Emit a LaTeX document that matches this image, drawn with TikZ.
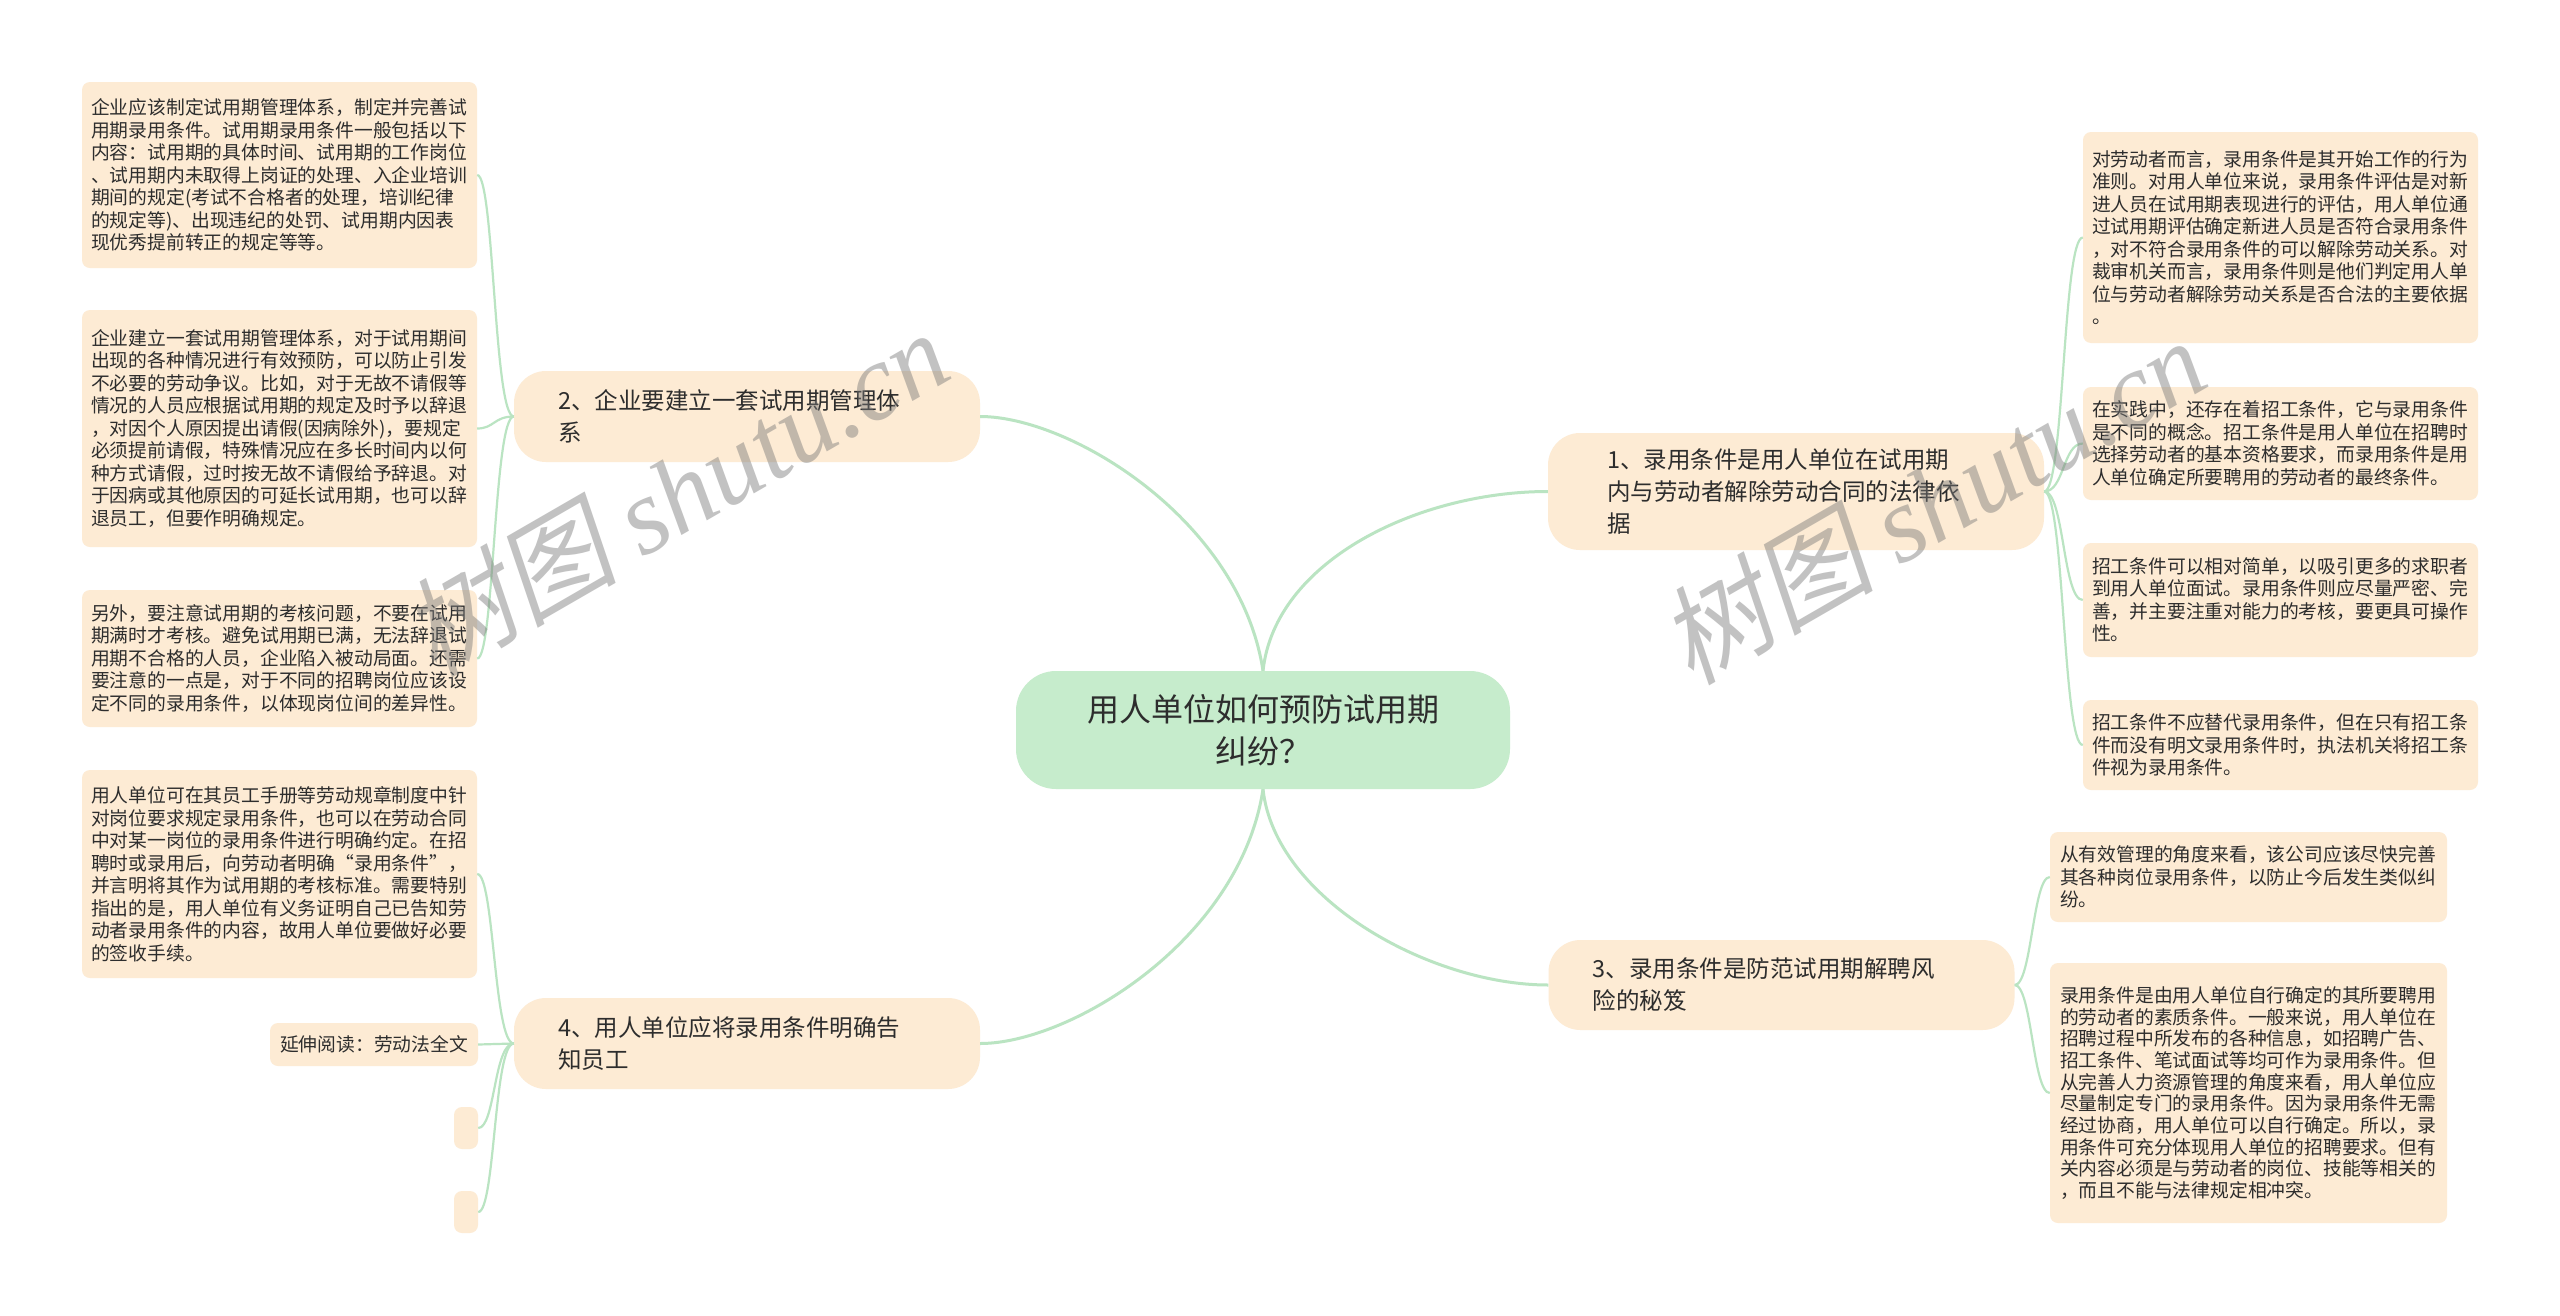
\documentclass[tikz,border=0pt]{standalone}
\usepackage{fontspec}
\setmainfont{Noto Sans CJK SC}
\newfontfamily\markcjk[FakeSlant=0.2]{Noto Sans CJK SC}
\newfontfamily\markfont{Liberation Serif}
\usetikzlibrary{positioning}
\definecolor{peach}{RGB}{253,235,212}
\definecolor{mint}{RGB}{198,236,204}
\definecolor{linegreen}{RGB}{186,228,194}
\definecolor{ink}{RGB}{45,45,45}
\definecolor{markgray}{RGB}{120,120,120}
\tikzstyle{rootbox} = [fill=mint, rounded corners=40pt, text=ink, align=center, inner sep=0pt, minimum width=494pt, minimum height=118pt, font=\fontsize{32}{42}\selectfont]
\tikzstyle{branchbox} = [fill=peach, rounded corners=32pt, text=ink, align=left, text width=378pt, inner xsep=44pt, inner ysep=0pt, font=\fontsize{23.5}{32}\selectfont]
\tikzstyle{leafbox} = [fill=peach, rounded corners=8pt, text=ink, inner sep=0pt, font=\fontsize{18.8}{22.5}\selectfont]
\tikzstyle{notebox} = [leafbox, align=left, text width=377pt, inner xsep=9pt, minimum width=395pt]
\tikzstyle{limb} = [draw=linegreen, line width=3pt]
\tikzstyle{twig} = [draw=linegreen, line width=2.2pt]
\tikzstyle{watermark} = [rotate=30, text=markgray, opacity=0.45, inner sep=0pt, font=\fontsize{108}{108}\selectfont]

\begin{document}
\begin{tikzpicture}[x=1pt, y=-1pt]
			\useasboundingbox (0, 0) rectangle (2560, 1315);
			\fill [white] (0, 0) rectangle (2560, 1315);

			\node (root) [rootbox] at (1263, 730) {用人单位如何预防试用期\\纠纷？};

			\node (n1) [branchbox, inner xsep=59pt, minimum height=117pt] at (1796, 491.5) {1、录用条件是用人单位在试用期\\内与劳动者解除劳动合同的法律依\\据};
			\node (n2) [branchbox, minimum height=91pt] at (747, 416.5) {2、企业要建立一套试用期管理体\\系};
			\node (n3) [branchbox, minimum height=90pt] at (1781.5, 985) {3、录用条件是防范试用期解聘风\\险的秘笈};
			\node (n4) [branchbox, minimum height=91pt] at (747, 1043.5) {4、用人单位应将录用条件明确告\\知员工};

			\draw [limb] (root.north) .. controls +(12, -111) and +(-128, 0) .. (n1.west);
			\draw [limb] (root.north) .. controls +(-23, -151) and +(90, 0) .. (n2.east);
			\draw [limb] (root.south) .. controls +(12, 110) and +(-118, 0) .. (n3.west);
			\draw [limb] (root.south) .. controls +(-23, 151) and +(90, 0) .. (n4.east);

			\node (l2a) [notebox, minimum height=186pt] at (279.5, 175) {企业应该制定试用期管理体系，制定并完善试\\用期录用条件。试用期录用条件一般包括以下\\内容：试用期的具体时间、试用期的工作岗位\\、试用期内未取得上岗证的处理、入企业培训\\期间的规定(考试不合格者的处理，培训纪律\\的规定等)、出现违纪的处罚、试用期内因表\\现优秀提前转正的规定等等。};
			\node (l2b) [notebox, minimum height=237pt] at (279.5, 428.5) {企业建立一套试用期管理体系，对于试用期间\\出现的各种情况进行有效预防，可以防止引发\\不必要的劳动争议。比如，对于无故不请假等\\情况的人员应根据试用期的规定及时予以辞退\\，对因个人原因提出请假(因病除外)，要规定\\必须提前请假，特殊情况应在多长时间内以何\\种方式请假，过时按无故不请假给予辞退。对\\于因病或其他原因的可延长试用期，也可以辞\\退员工，但要作明确规定。};
			\node (l2c) [notebox, minimum height=137pt] at (279.5, 658.5) {另外，要注意试用期的考核问题，不要在试用\\期满时才考核。避免试用期已满，无法辞退试\\用期不合格的人员，企业陷入被动局面。还需\\要注意的一点是，对于不同的招聘岗位应该设\\定不同的录用条件，以体现岗位间的差异性。};

			\draw [twig] (n2.west) .. controls +(-20, 0) and +(17, 0) .. (l2a.east);
			\draw [twig] (n2.west) .. controls +(-20, 0) and +(17, 0) .. (l2b.east);
			\draw [twig] (n2.west) .. controls +(-20, 0) and +(17, 0) .. (l2c.east);

			\node (l4a) [notebox, minimum height=208pt] at (279.5, 874) {用人单位可在其员工手册等劳动规章制度中针\\对岗位要求规定录用条件，也可以在劳动合同\\中对某一岗位的录用条件进行明确约定。在招\\聘时或录用后，向劳动者明确“录用条件”，\\并言明将其作为试用期的考核标准。需要特别\\指出的是，用人单位有义务证明自己已告知劳\\动者录用条件的内容，故用人单位要做好必要\\的签收手续。};
			\node (l4b) [leafbox, minimum width=208pt, minimum height=43pt] at (374, 1044.5) {延伸阅读：劳动法全文};
			\node (l4c) [leafbox, minimum width=24pt, minimum height=42pt] at (466, 1128) {};
			\node (l4d) [leafbox, minimum width=24pt, minimum height=42pt] at (466, 1212) {};

			\draw [twig] (n4.west) .. controls +(-20, 0) and +(17, 0) .. (l4a.east);
			\draw [twig] (n4.west) -- (l4b.east);
			\draw [twig] (n4.west) .. controls +(-20, 0) and +(17, 0) .. (l4c.east);
			\draw [twig] (n4.west) .. controls +(-20, 0) and +(17, 0) .. (l4d.east);

			\node (r1a) [notebox, minimum height=211pt] at (2280.5, 237.5) {对劳动者而言，录用条件是其开始工作的行为\\准则。对用人单位来说，录用条件评估是对新\\进人员在试用期表现进行的评估，用人单位通\\过试用期评估确定新进人员是否符合录用条件\\，对不符合录用条件的可以解除劳动关系。对\\裁审机关而言，录用条件则是他们判定用人单\\位与劳动者解除劳动关系是否合法的主要依据\\。};
			\node (r1b) [notebox, minimum height=113pt] at (2280.5, 443.5) {在实践中，还存在着招工条件，它与录用条件\\是不同的概念。招工条件是用人单位在招聘时\\选择劳动者的基本资格要求，而录用条件是用\\人单位确定所要聘用的劳动者的最终条件。};
			\node (r1c) [notebox, minimum height=114pt] at (2280.5, 600) {招工条件可以相对简单，以吸引更多的求职者\\到用人单位面试。录用条件则应尽量严密、完\\善，并主要注重对能力的考核，要更具可操作\\性。};
			\node (r1d) [notebox, minimum height=90pt] at (2280.5, 745) {招工条件不应替代录用条件，但在只有招工条\\件而没有明文录用条件时，执法机关将招工条\\件视为录用条件。};

			\draw [twig] (n1.east) .. controls +(20, 0) and +(-20, 0) .. (r1a.west);
			\draw [twig] (n1.east) .. controls +(20, 0) and +(-20, 0) .. (r1b.west);
			\draw [twig] (n1.east) .. controls +(20, 0) and +(-20, 0) .. (r1c.west);
			\draw [twig] (n1.east) .. controls +(20, 0) and +(-20, 0) .. (r1d.west);

			\node (r3a) [notebox, inner xsep=10pt, minimum height=90pt] at (2248.5, 877) {从有效管理的角度来看，该公司应该尽快完善\\其各种岗位录用条件，以防止今后发生类似纠\\纷。};
			\node (r3b) [notebox, inner xsep=10pt, minimum height=260pt, font=\fontsize{18.8}{21.7}\selectfont] at (2248.5, 1093) {录用条件是由用人单位自行确定的其所要聘用\\的劳动者的素质条件。一般来说，用人单位在\\招聘过程中所发布的各种信息，如招聘广告、\\招工条件、笔试面试等均可作为录用条件。但\\从完善人力资源管理的角度来看，用人单位应\\尽量制定专门的录用条件。因为录用条件无需\\经过协商，用人单位可以自行确定。所以，录\\用条件可充分体现用人单位的招聘要求。但有\\关内容必须是与劳动者的岗位、技能等相关的\\，而且不能与法律规定相冲突。};

			\draw [twig] (n3.east) .. controls +(17, 0) and +(-17, 0) .. (r3a.west);
			\draw [twig] (n3.east) .. controls +(17, 0) and +(-17, 0) .. (r3b.west);

			\node (mark1) [watermark] at (675, 492) {{\markcjk 树图} {\markfont\itshape shutu.cn}};
			\node (mark2) [watermark] at (1932, 500) {{\markcjk 树图} {\markfont\itshape shutu.cn}};
		\end{tikzpicture}
\end{document}
